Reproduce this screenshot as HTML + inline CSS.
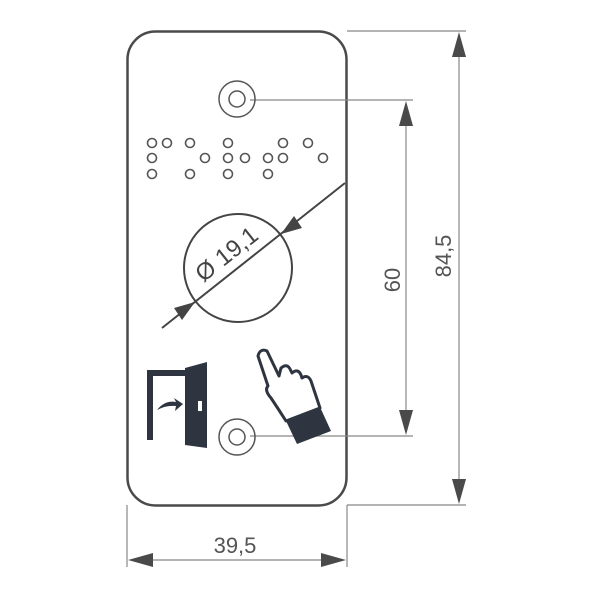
<!DOCTYPE html>
<html><head><style>html,body{margin:0;padding:0;background:#fff}</style></head>
<body>
<svg width="600" height="600" viewBox="0 0 600 600" xmlns="http://www.w3.org/2000/svg" font-family="Liberation Sans, sans-serif">
<rect x="127.5" y="31.5" width="219" height="474" rx="28" fill="#fff" stroke="#4a4a4a" stroke-width="2.5"/>
<g stroke="#888" stroke-width="1.2">
<line x1="347" y1="31" x2="466" y2="31"/>
<line x1="347" y1="505" x2="466" y2="505"/>
<line x1="459" y1="40" x2="459" y2="498"/>
<line x1="250" y1="100" x2="413" y2="100"/>
<line x1="250" y1="436" x2="413" y2="436"/>
<line x1="406" y1="110" x2="406" y2="428"/>
<line x1="127" y1="505" x2="127" y2="567"/>
<line x1="347" y1="505" x2="347" y2="567"/>
<line x1="140" y1="560" x2="335" y2="560"/>
</g>
<g fill="#4a4a4a">
<polygon points="459,32 452,57 466,57"/>
<polygon points="459,504 452,479 466,479"/>
<polygon points="406,101 399,126 413,126"/>
<polygon points="406,435 399,410 413,410"/>
<polygon points="128,560 153,553 153,567"/>
<polygon points="346,560 321,553 321,567"/>
</g>
<text x="235" y="553" font-size="22" fill="#555" text-anchor="middle">39,5</text>
<text transform="translate(400,280) rotate(-90)" font-size="22" fill="#555" text-anchor="middle">60</text>
<text transform="translate(451,256) rotate(-90)" font-size="22" fill="#555" text-anchor="middle">84,5</text>
<g fill="none" stroke="#555" stroke-width="1.5">
<circle cx="237" cy="99" r="18"/><circle cx="237" cy="99" r="8"/>
<circle cx="237" cy="437" r="18"/><circle cx="237" cy="437" r="8"/>
</g>
<g fill="none" stroke="#555" stroke-width="1.6">
<circle cx="152" cy="143" r="4.5"/><circle cx="167" cy="143" r="4.5"/><circle cx="190" cy="143" r="4.5"/><circle cx="228" cy="143" r="4.5"/><circle cx="283" cy="143" r="4.5"/><circle cx="308" cy="143" r="4.5"/>
<circle cx="152" cy="158" r="4.5"/><circle cx="205" cy="158" r="4.5"/><circle cx="228" cy="158" r="4.5"/><circle cx="245" cy="158" r="4.5"/><circle cx="268" cy="158" r="4.5"/><circle cx="283" cy="158" r="4.5"/><circle cx="323" cy="158" r="4.5"/>
<circle cx="152" cy="174" r="4.5"/><circle cx="190" cy="174" r="4.5"/><circle cx="228" cy="174" r="4.5"/><circle cx="268" cy="174" r="4.5"/>
</g>
<circle cx="238" cy="268" r="54" fill="none" stroke="#444" stroke-width="2"/>
<line x1="162" y1="328" x2="345" y2="183" stroke="#444" stroke-width="2"/>
<polygon points="195,302 174,308 182,320" fill="#444"/>
<polygon points="281,234 302,228 294,216" fill="#444"/>
<text transform="translate(236,266) rotate(-38.4)" font-size="24" fill="#444" text-anchor="middle" y="-7">Ø 19,1</text>
<g fill="#2e3440">
<path d="M147 370 H203 V376 H153 V440 H147 Z"/>
<path d="M185 368 L207 362 V448 L185 445 Z"/>
<path d="M157 410 Q165 400 176 402 L174 398 L183 404 L175 411 L176 406 Q166 405 157 410 Z"/>
</g>
<rect x="198" y="401" width="4" height="10" fill="#fff"/>
<g fill="none" stroke="#2e3440" stroke-width="3" stroke-linejoin="round">
<path d="M268 386 L258 356 Q260 348 267 351 L279 376 L281 368 Q287 363 290 369 L292 373 Q298 368 301 375 L302 378 Q308 374 311 381 L320 408 L286 421 Q279 410 271 398 Q264 390 268 386 Z"/>
</g>
<polygon points="286,421 320,407 331,431 297,444" fill="#2e3440"/>
</svg>
</body></html>
